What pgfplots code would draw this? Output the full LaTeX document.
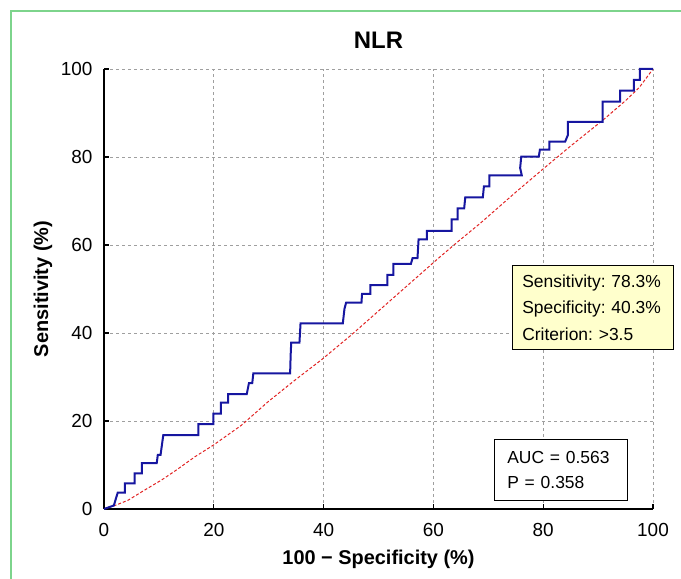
\documentclass[border=0pt]{standalone}
\usepackage{fontspec}
\setmainfont{Liberation Sans}
\usepackage{pgfplots}
\pgfplotsset{compat=1.18}
\definecolor{rocblue}{RGB}{22,22,160}
\definecolor{fitred}{RGB}{225,35,35}
\definecolor{boxyellow}{RGB}{255,255,204}
\definecolor{framegreen}{RGB}{125,212,140}
\frenchspacing
\begin{document}
\begin{tikzpicture}[x=1bp,y=1bp]
\useasboundingbox (0,0) rectangle (681,579);
\draw[framegreen, line width=1.2bp] (11,0) -- (11,568) -- (681,568);
\begin{axis}[
  at={(104bp,70bp)}, anchor=south west,
  scale only axis, width=549bp, height=440bp,
  xmin=0, xmax=100, ymin=0, ymax=100,
  xtick={0,20,40,60,80,100}, ytick={0,20,40,60,80,100},
  axis x line*=bottom, axis y line*=left,
  axis line style={-, line width=1.4bp, black},
  tick align=inside, major tick length=5bp,
  tick style={line width=1.2bp, black},
  grid=major,
  major grid style={gray!75, line width=0.7bp, dash pattern=on 3bp off 3bp},
  /pgf/number format/assume math mode=true,
  ticklabel style={font=\fontsize{19}{21}\selectfont},
  xticklabel style={yshift=-11bp},
  yticklabel style={xshift=-8bp},
  title={NLR},
  title style={at={(axis description cs:0.5,1)}, anchor=center, yshift=23bp, font=\bfseries\fontsize{24}{26}\selectfont},
  xlabel={100 − Specificity (\%)},
  xlabel style={at={(axis description cs:0.5,-0.1136)}, anchor=center, font=\bfseries\fontsize{20}{22}\selectfont},
  ylabel={Sensitivity (\%)},
  ylabel style={at={(axis description cs:-0.1111,0.5)}, anchor=center, font=\bfseries\fontsize{20}{22}\selectfont},
  clip=false,
]
\addplot[fitred, line width=1bp, dash pattern=on 3bp off 2bp] coordinates {
(0,0) (2,0.8) (4.4,2.0) (7,4) (10.5,6.6) (13,8.7) (16.6,11.9) (19.9,14.5)
(25,19) (30,24.5) (34.8,29.3) (39.6,33.9) (45,39.5) (50,45) (55,50.5)
(61.2,57.3) (64.5,60.8) (68.5,64.9) (75,72) (80,77.3) (85,82.5)
(90.9,88.4) (95,92.8) (97.5,95.8) (100,100)
};
\addplot[rocblue, line width=2bp, line join=miter] coordinates {
(0,0) (1.8,0.8) (2.2,2.5) (2.5,3.7) (3.8,3.7) (3.8,5.8) (5.6,5.8) (5.6,8.1)
(6.9,8.1) (6.9,10.4) (9.6,10.4) (9.8,12.3) (10.3,12.3) (10.6,15) (10.8,16.8)
(17.2,16.8) (17.2,19.3) (19.9,19.3) (19.9,21.7) (21.3,21.7) (21.3,24.2)
(22.6,24.2) (22.6,26.1) (26.0,26.1) (26.4,28.6) (27.0,28.6) (27.2,30.8)
(33.9,30.8) (34.0,35) (34.1,37.8) (35.6,37.8) (35.8,42.2) (43.5,42.2)
(43.8,45.5) (44.1,46.9) (46.9,46.9) (47.0,48.9) (48.5,48.9) (48.5,50.9)
(51.6,50.9) (51.6,53.2) (52.7,53.2) (52.7,55.7) (55.9,55.7) (56.2,57.0)
(57.1,57.0) (57.3,61.3) (58.8,61.3) (58.8,63.2) (63.3,63.2) (63.3,65.8)
(64.4,65.8) (64.4,68.3) (65.6,68.3) (65.8,70.8) (69.0,70.8) (69.2,73.3)
(70.2,73.3) (70.2,75.8) (76.1,75.8) (75.8,77.5) (76.0,80.1) (79.2,80.1)
(79.4,81.7) (81.1,81.7) (81.1,83.5) (84.0,83.5) (84.5,85.0) (84.5,88.0)
(90.8,88.0) (90.8,92.6) (94.0,92.6) (94.0,95.1) (96.5,95.1) (96.5,97.5)
(97.6,97.5) (97.6,100) (100,100)
};
\end{axis}
\node[draw=black, line width=1.2bp, fill=boxyellow, anchor=north west,
  inner xsep=9.7bp, inner ysep=9bp, text width=141.6bp, align=left,
  font=\fontsize{17.5}{26.5}\selectfont] at (512,314)
  {Sensitivity: 78.3\%\\Specificity: 40.3\%\\Criterion: >3.5};
\node[draw=black, line width=1.2bp, fill=white, anchor=north west,
  inner xsep=12.7bp, inner ysep=12bp, text width=107.6bp, align=left,
  font=\fontsize{17.5}{25}\selectfont] at (494,140)
  {AUC = 0.563\\P = 0.358};
\end{tikzpicture}
\end{document}
